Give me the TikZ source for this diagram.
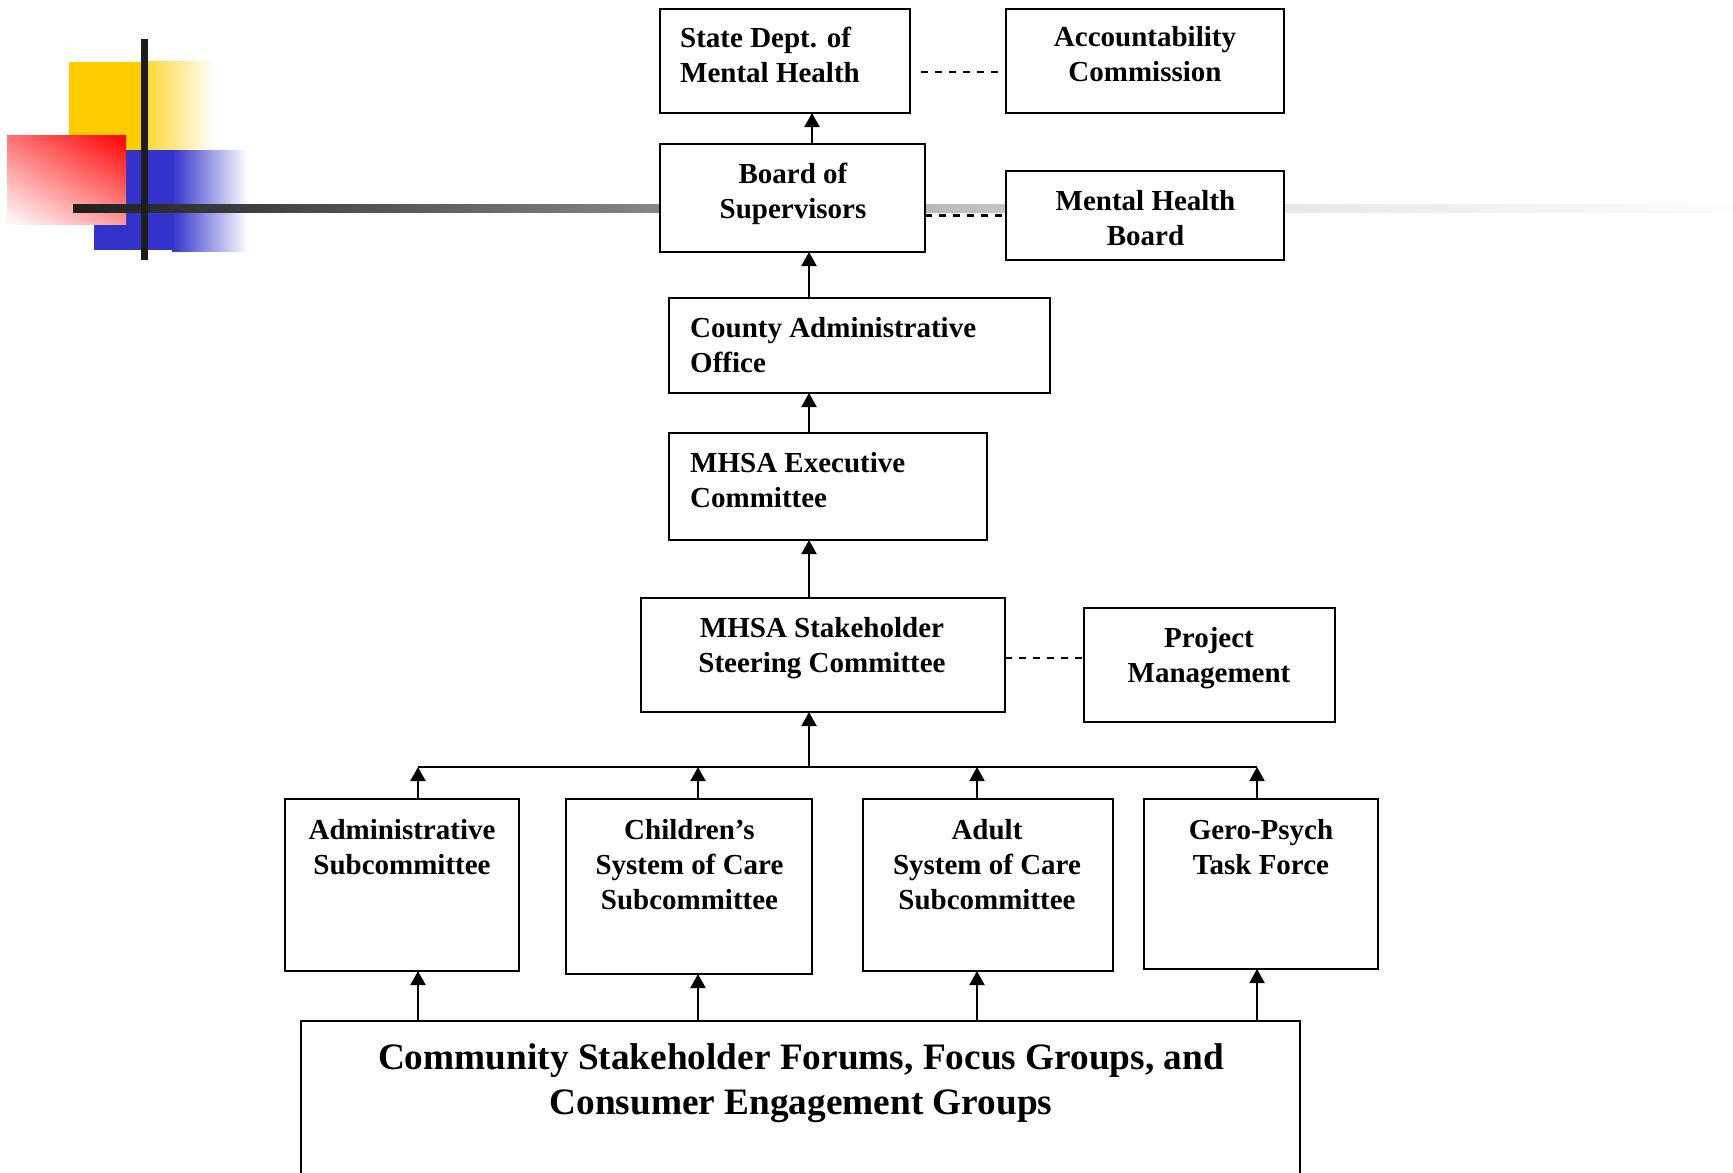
\documentclass[tikz,border=0pt]{standalone}
\usepackage{fontspec}
\setmainfont{Liberation Serif}
\usetikzlibrary{arrows.meta,fit,shadings}
\pgfdeclarehorizontalshading{hbar}{100bp}{color(0bp)=(black!88); color(25bp)=(black!88); color(42.7bp)=(black!47); color(51.9bp)=(black!25); color(61.7bp)=(black!9); color(75bp)=(black!1); color(100bp)=(black!1)}
\definecolor{dyel}{HTML}{FFCC00}
\definecolor{dblu}{HTML}{3333CC}
\definecolor{dred}{HTML}{FF0000}
\definecolor{dbar}{HTML}{1C1C1C}
\begin{document}
\begin{tikzpicture}[x=1pt,y=-1pt,
  box/.style={draw=black, line width=2.2pt, fill=white, inner sep=0pt, outer sep=0pt},
  txt/.style={inner sep=0pt, font=\bfseries\fontsize{29}{35}\selectfont},
  bigtxt/.style={inner sep=0pt, font=\bfseries\fontsize{37.3}{45}\selectfont, align=center},
  ln/.style={line width=2pt},
  arr/.style={line width=2pt, -{Triangle[length=14pt,width=15pt]}},
  dashln/.style={line width=2.2pt, dash pattern=on 7pt off 7pt}]
\useasboundingbox (0,0) rectangle (1733,1173);
\begin{scope}
\clip (0,0) rectangle (1733,1173);
% decoration
\fill[dyel] (69,62) rectangle (146,150);
\shade[left color=dyel!80, right color=white] (146,61) rectangle (214,150);
\fill[dblu] (94,150) rectangle (173,250);
\shade[left color=dblu, right color=white] (172,150) rectangle (248,251);
\shade[upper right=dred, upper left=dred!55, lower right=dred!40, lower left=white] (7,135) rectangle (126,224);
\shade[shading=hbar] (73,204.5) rectangle (1733,212.5);
\fill[dbar] (141,39) rectangle (148,260);
% boxes
\node[box, fit={(660,9) (910,113)}] (sdmh) {};
\node[box, fit={(1006,9) (1284,113)}] (acc) {};
\node[box, fit={(660,144) (925,252)}] (bos) {};
\node[box, fit={(1006,171) (1284,260)}] (mhb) {};
\node[box, fit={(669,298) (1050,393)}] (cao) {};
\node[box, fit={(669,433) (987,540)}] (exec) {};
\node[box, fit={(641,598) (1005,712)}] (steer) {};
\node[box, fit={(1084,608) (1335,722)}] (pm) {};
\node[box, fit={(285,799) (519,971)}] (adm) {};
\node[box, fit={(566,799) (812,974)}] (chi) {};
\node[box, fit={(863,799) (1113,971)}] (adu) {};
\node[box, fit={(1144,799) (1378,969)}] (gero) {};
\node[box, fit={(301,1021) (1300,1200)}] (comm) {};
% texts
\node[txt, align=left, anchor=north west] (sdmh-t) at (680,27) {State Dept. of\\Mental Health};
\node[txt, align=center, anchor=north] (acc-t) at (1145,26) {Accountability\\Commission};
\node[txt, align=center, anchor=north] (bos-t) at (793,163) {Board of\\Supervisors};
\node[txt, align=center, anchor=north] (mhb-t) at (1145.5,190) {Mental Health\\Board};
\node[txt, align=left, anchor=north west] (cao-t) at (690,317) {County Administrative\\Office};
\node[txt, align=left, anchor=north west] (exec-t) at (690,452) {MHSA Executive\\Committee};
\node[txt, align=center, anchor=north] (steer-t) at (822,617) {MHSA Stakeholder\\Steering Committee};
\node[txt, align=center, anchor=north] (pm-t) at (1209,627) {Project\\Management};
\node[txt, align=center, anchor=north] (adm-t) at (402,819) {Administrative\\Subcommittee};
\node[txt, align=center, anchor=north] (chi-t) at (689.5,819) {Children’s\\System of Care\\Subcommittee};
\node[txt, align=center, anchor=north] (adu-t) at (987,819) {Adult\\System of Care\\Subcommittee};
\node[txt, align=center, anchor=north] (gero-t) at (1261,819) {Gero-Psych\\Task Force};
\node[bigtxt, anchor=north] (comm-t) at (801,1043) {Community Stakeholder Forums, Focus Groups, and\\Consumer Engagement Groups};
% connectors
\coordinate (sp) at (809,0);
\coordinate (sq) at (812,0);
\draw[arr] (sq |- bos.north) -- (sq |- sdmh.south);
\draw[arr] (sp |- cao.north) -- (sp |- bos.south);
\draw[arr] (sp |- exec.north) -- (sp |- cao.south);
\draw[arr] (sp |- steer.north) -- (sp |- exec.south);
\coordinate (busl) at (418,767);
\coordinate (busr) at (1257,767);
\draw[ln] (busl) -- (busr);
\draw[arr] (sp |- busl) -- (sp |- steer.south);
\foreach \x/\n in {418/adm, 698/chi, 977/adu, 1257/gero} {
  \coordinate (c\n) at (\x,0);
  \draw[arr] (c\n |- \n.north) -- (c\n |- busl);
  \draw[arr] (c\n |- comm.north) -- (c\n |- \n.south);
}
\coordinate (d1) at ([yshift=-11pt]sdmh.east);
\draw[dashln, shorten <=11pt, shorten >=6pt] (d1) -- (d1 -| acc.west);
\draw[dashln] (bos.east |- mhb.west) -- (mhb.west);
\coordinate (d3) at ([yshift=-3pt]steer.east);
\draw[dashln, shorten >=2pt] (d3) -- (d3 -| pm.west);
\end{scope}
\end{tikzpicture}
\end{document}
